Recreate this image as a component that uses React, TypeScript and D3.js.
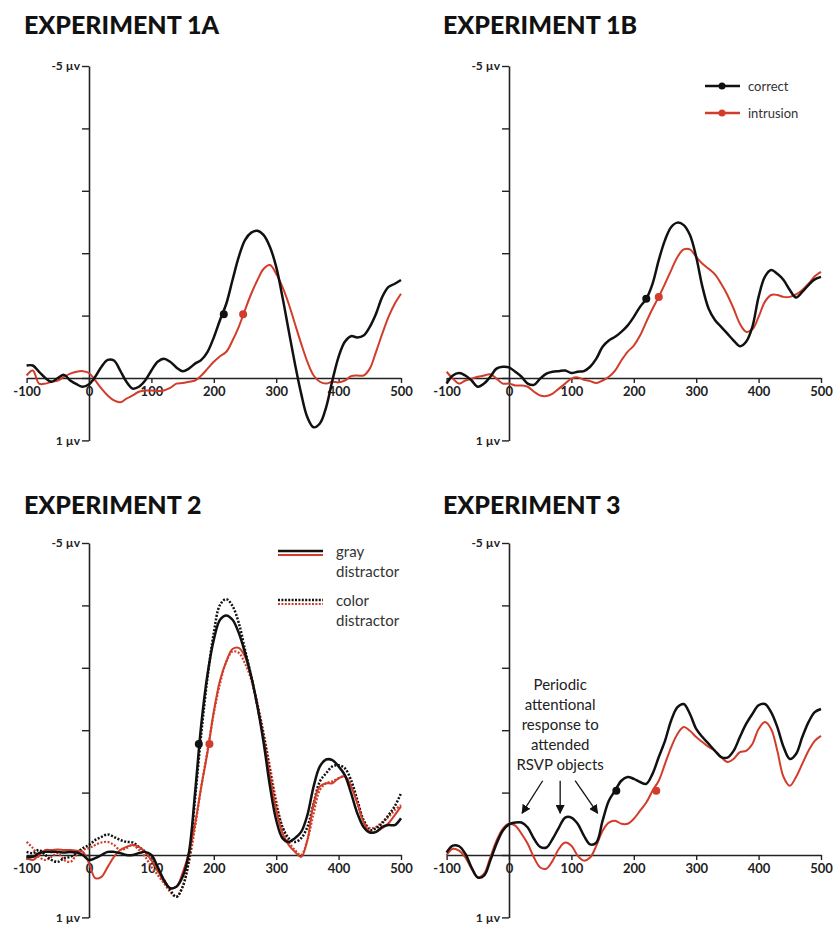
import React, { useEffect, useRef } from 'react';
import * as d3 from 'd3';

// time points (ms) shared by every trace
const times = [
  -100, -90, -80, -70, -60, -50, -40, -30, -20, -10,
  0, 10, 20, 30, 40, 50, 60, 70, 80, 90,
  100, 110, 120, 130, 140, 150, 160, 170, 180, 190,
  200, 210, 220, 230, 240, 250, 260, 270, 280, 290,
  300, 310, 320, 330, 340, 350, 360, 370, 380, 390,
  400, 410, 420, 430, 440, 450, 460, 470, 480, 490, 500,
];

const xTicks = [-100, 0, 100, 200, 300, 400, 500];
const yTicks = [-5, -4, -3, -2, -1, 0, 1];

// Experiment 1A (µV, negative up)
const exp1aCorrect = [
  -0.2, -0.2, -0.1, 0, 0.06, 0, -0.05, 0.04, 0.1, 0.14,
  0.1, -0.02, -0.18, -0.29, -0.28, -0.12, 0.06, 0.17, 0.14, 0.04,
  -0.12, -0.26, -0.31, -0.26, -0.17, -0.11, -0.15, -0.23, -0.29, -0.42,
  -0.65, -0.93, -1.19, -1.57, -1.94, -2.21, -2.33, -2.36, -2.29, -2.1,
  -1.78, -1.3, -0.76, -0.23, 0.25, 0.63, 0.79, 0.73, 0.47, 0.04,
  -0.34, -0.58, -0.67, -0.65, -0.68, -0.82, -1.03, -1.3, -1.46, -1.51, -1.57,
];
const exp1aIntrusion = [
  -0.04, -0.12, 0.09, 0.09, 0.06, 0.04, -0.02, -0.07, -0.1, -0.11,
  -0.08, 0.04, 0.17, 0.28, 0.36, 0.39, 0.33, 0.28, 0.22, 0.2,
  0.2, 0.21, 0.2, 0.16, 0.09, 0.08, 0.06, 0.04, -0.04, -0.15,
  -0.26, -0.35, -0.42, -0.6, -0.82, -1.09, -1.35, -1.57, -1.75, -1.81,
  -1.67, -1.46, -1.19, -0.87, -0.55, -0.26, -0.04, 0.06, 0.09, 0.06,
  0.07, 0.04, -0.03, -0.04, -0.04, -0.15, -0.42, -0.71, -0.98, -1.19, -1.35,
];

// Experiment 1B
const exp1bCorrect = [
  0.09, -0.04, -0.08, -0.04, 0.04, 0.14, 0.09, -0.02, -0.15, -0.18,
  -0.17, -0.1, -0.02, 0.09, 0.11, 0.01, -0.07, -0.1, -0.11, -0.12,
  -0.08, -0.1, -0.11, -0.18, -0.31, -0.5, -0.6, -0.66, -0.74, -0.84,
  -0.98, -1.14, -1.27, -1.51, -1.89, -2.21, -2.42, -2.49, -2.45, -2.29,
  -1.94, -1.46, -1.11, -0.93, -0.82, -0.71, -0.6, -0.51, -0.58, -0.82,
  -1.3, -1.62, -1.73, -1.67, -1.57, -1.41, -1.29, -1.38, -1.49, -1.58, -1.62,
];
const exp1bIntrusion = [
  -0.1, 0.01, 0.09, 0.04, 0.01, -0.02, -0.04, -0.06, 0.01, 0.09,
  0.09, 0.12, 0.12, 0.14, 0.22, 0.28, 0.29, 0.25, 0.17, 0.09,
  0.01, -0.01, 0.03, 0.05, 0.08, 0.04, -0.02, -0.12, -0.28, -0.42,
  -0.52, -0.68, -0.9, -1.11, -1.3, -1.51, -1.73, -1.94, -2.06, -2.06,
  -1.94, -1.83, -1.75, -1.66, -1.51, -1.33, -1.11, -0.87, -0.74, -0.78,
  -0.98, -1.22, -1.33, -1.33, -1.3, -1.3, -1.34, -1.41, -1.51, -1.63, -1.7,
];

// Experiment 2
const exp2GrayCorrect = [
  0.03, 0.03, -0.03, -0.05, -0.05, -0.05, -0.04, -0.05, -0.04, 0,
  0.08, 0.05, 0, -0.05, -0.05, -0.03, 0, 0, -0.03, -0.05,
  0, 0.19, 0.4, 0.53, 0.51, 0.35, -0.03, -1.0, -2.1, -2.9,
  -3.45, -3.77, -3.84, -3.77, -3.56, -3.24, -2.86, -2.38, -1.79, -1.1,
  -0.56, -0.27, -0.21, -0.27, -0.37, -0.64, -1.1, -1.42, -1.53, -1.52,
  -1.42, -1.28, -0.99, -0.67, -0.45, -0.36, -0.37, -0.45, -0.48, -0.48, -0.59,
];
const exp2ColorCorrect = [
  -0.05, -0.03, -0.08, 0, 0.08, 0.11, 0.05, 0.03, -0.03, -0.11,
  -0.16, -0.24, -0.29, -0.33, -0.29, -0.24, -0.21, -0.2, -0.13, -0.05,
  0.08, 0.24, 0.4, 0.56, 0.67, 0.51, 0.08, -0.9, -1.95, -2.85,
  -3.56, -4.01, -4.1, -3.99, -3.72, -3.29, -2.86, -2.38, -1.9, -1.31,
  -0.78, -0.45, -0.27, -0.21, -0.27, -0.45, -0.83, -1.18, -1.31, -1.42,
  -1.44, -1.39, -1.2, -0.88, -0.56, -0.4, -0.43, -0.51, -0.64, -0.78, -0.99,
];
const exp2GrayIntrusion = [
  0.05, 0.08, 0, -0.08, -0.08, -0.09, -0.08, -0.08, -0.07, -0.05,
  0.13, 0.37, 0.35, 0.19, 0.03, -0.08, -0.13, -0.16, -0.13, -0.05,
  0.08, 0.24, 0.43, 0.53, 0.51, 0.29, -0.03, -0.5, -1.1, -1.65,
  -2.3, -2.8, -3.1, -3.3, -3.32, -3.18, -2.86, -2.38, -1.84, -1.26,
  -0.72, -0.35, -0.16, -0.05, 0.03, -0.24, -0.83, -1.1, -1.15, -1.15,
  -1.23, -1.26, -1.1, -0.83, -0.53, -0.37, -0.37, -0.43, -0.51, -0.64, -0.78,
];
const exp2ColorIntrusion = [
  -0.21, -0.11, 0.03, 0.08, 0.03, -0.03, 0.08, 0.11, 0, -0.08,
  -0.11, -0.16, -0.2, -0.21, -0.16, -0.08, -0.11, -0.16, -0.08, 0.03,
  0.19, 0.32, 0.45, 0.59, 0.67, 0.51, 0.13, -0.45, -1.1, -1.68,
  -2.27, -2.75, -3.1, -3.26, -3.24, -3.07, -2.81, -2.43, -1.95, -1.42,
  -0.88, -0.45, -0.21, -0.08, 0, -0.24, -0.67, -1.04, -1.15, -1.18,
  -1.23, -1.26, -1.12, -0.83, -0.56, -0.43, -0.45, -0.53, -0.61, -0.72, -0.8,
];

// Experiment 3
const exp3Correct = [
  -0.04, -0.15, -0.14, -0.02, 0.2, 0.36, 0.33, 0.09, -0.18, -0.39,
  -0.49, -0.52, -0.52, -0.44, -0.26, -0.13, -0.12, -0.26, -0.44, -0.6,
  -0.6, -0.5, -0.31, -0.17, -0.2, -0.55, -0.87, -1.03, -1.19, -1.25,
  -1.22, -1.17, -1.14, -1.3, -1.57, -1.83, -2.16, -2.37, -2.42, -2.26,
  -2.02, -1.89, -1.78, -1.67, -1.57, -1.56, -1.67, -1.89, -2.1, -2.26,
  -2.4, -2.42, -2.29, -2.05, -1.73, -1.54, -1.62, -1.89, -2.13, -2.29, -2.34,
];
const exp3Intrusion = [
  0, -0.1, -0.07, 0.04, 0.22, 0.36, 0.3, 0.04, -0.23, -0.42,
  -0.5, -0.47, -0.34, -0.18, 0.04, 0.2, 0.22, 0.09, -0.1, -0.2,
  -0.15, 0.01, 0.09, 0.04, -0.15, -0.39, -0.52, -0.55, -0.5, -0.5,
  -0.58, -0.71, -0.84, -1.03, -1.19, -1.46, -1.73, -1.94, -2.05, -1.99,
  -1.89, -1.81, -1.73, -1.67, -1.57, -1.49, -1.54, -1.65, -1.67, -1.78,
  -2.02, -2.13, -2.02, -1.67, -1.25, -1.11, -1.25, -1.46, -1.67, -1.83, -1.91,
];

// onset markers [ms, µV]
const exp1aMarkers = [[216, -1.02], [247, -1.02]];
const exp1bMarkers = [[220, -1.27], [240, -1.3]];
const exp2Markers = [[176, -1.78], [193, -1.78]];
const exp3Markers = [[172, -1.03], [236, -1.03]];

// annotation arrows in Experiment 3 [fromMs, fromUv, toMs, toUv]
const exp3Arrows = [
  [54, -1.19, 21, -0.67],
  [82, -1.19, 82, -0.67],
  [106, -1.19, 142, -0.67],
];
const exp3Note = ['Periodic', 'attentional', 'response to', 'attended', 'RSVP objects'];

const BLACK = '#111';
const RED = '#d23c2a';
const UNIT = 62.4;

const panels = [
  {
    title: 'EXPERIMENT 1A', titleX: 24, titleY: 34, x0: 89, top: 66,
    series: [
      { values: exp1aIntrusion, color: RED, width: 2, dash: null },
      { values: exp1aCorrect, color: BLACK, width: 2.5, dash: null },
    ],
    markers: exp1aMarkers,
  },
  {
    title: 'EXPERIMENT 1B', titleX: 443, titleY: 34, x0: 509, top: 66,
    series: [
      { values: exp1bIntrusion, color: RED, width: 2, dash: null },
      { values: exp1bCorrect, color: BLACK, width: 2.5, dash: null },
    ],
    markers: exp1bMarkers,
    legend: 'outcome',
  },
  {
    title: 'EXPERIMENT 2', titleX: 24, titleY: 514, x0: 89, top: 543,
    series: [
      { values: exp2ColorIntrusion, color: RED, width: 2.2, dash: '2,1.6' },
      { values: exp2ColorCorrect, color: BLACK, width: 2.5, dash: '2,1.6' },
      { values: exp2GrayIntrusion, color: RED, width: 2, dash: null },
      { values: exp2GrayCorrect, color: BLACK, width: 2.5, dash: null },
    ],
    markers: exp2Markers,
    legend: 'distractor',
  },
  {
    title: 'EXPERIMENT 3', titleX: 443, titleY: 514, x0: 509, top: 543,
    series: [
      { values: exp3Intrusion, color: RED, width: 2, dash: null },
      { values: exp3Correct, color: BLACK, width: 2.5, dash: null },
    ],
    markers: exp3Markers,
    note: true,
  },
];

const App = () => {
  const svgRef = useRef();

  useEffect(() => {
    const svg = d3.select(svgRef.current);
    svg.selectAll('*').remove();

    svg.append('defs').append('marker')
      .attr('id', 'arrowhead')
      .attr('viewBox', '0 0 10 10')
      .attr('refX', 9)
      .attr('refY', 5)
      .attr('markerWidth', 7)
      .attr('markerHeight', 7)
      .attr('orient', 'auto')
      .append('path')
      .attr('d', 'M0,0 L10,5 L0,10 Z')
      .attr('fill', '#111');

    panels.forEach(p => {
      const x = d3.scaleLinear().domain([-100, 500]).range([p.x0 - UNIT, p.x0 + 5 * UNIT]);
      const y = d3.scaleLinear().domain([-5, 1]).range([p.top, p.top + 6 * UNIT]);
      const g = svg.append('g');

      g.append('text')
        .attr('x', p.titleX)
        .attr('y', p.titleY)
        .attr('font-family', 'Lato, sans-serif')
        .attr('font-weight', 900)
        .attr('font-size', 25)
        .attr('fill', '#111')
        .text(p.title);

      // x axis along zero
      const xAxis = g.append('g')
        .attr('transform', `translate(0,${y(0)})`)
        .call(d3.axisBottom(x).tickValues(xTicks).tickSize(5).tickSizeOuter(0).tickPadding(4)
          .tickFormat(d => String(d)));
      xAxis.select('.domain').attr('stroke', '#222').attr('stroke-width', 1.6);
      xAxis.selectAll('.tick line').attr('stroke', '#222').attr('stroke-width', 1.4);
      xAxis.selectAll('text')
        .attr('font-family', 'Lato, sans-serif')
        .attr('font-weight', 700)
        .attr('font-size', 13)
        .attr('fill', '#222');

      // y axis at time 0
      const yAxis = g.append('g')
        .attr('transform', `translate(${x(0)},0)`)
        .call(d3.axisLeft(y).tickValues(yTicks).tickSize(7).tickSizeOuter(0).tickPadding(2)
          .tickFormat(d => (d === -5 || d === 1 ? `${d} µv` : '')));
      yAxis.select('.domain').attr('stroke', '#222').attr('stroke-width', 1.6);
      yAxis.selectAll('.tick line').attr('stroke', '#222').attr('stroke-width', 1.4);
      yAxis.selectAll('text')
        .attr('font-family', 'Lato, sans-serif')
        .attr('font-weight', 700)
        .attr('font-size', 12)
        .attr('fill', '#222');

      const line = d3.line()
        .x((d, i) => x(times[i]))
        .y(d => y(d))
        .curve(d3.curveCatmullRom.alpha(0.5));

      p.series.forEach(s => {
        g.append('path')
          .datum(s.values)
          .attr('fill', 'none')
          .attr('stroke', s.color)
          .attr('stroke-width', s.width)
          .attr('stroke-dasharray', s.dash)
          .attr('stroke-linejoin', 'round')
          .attr('d', line);
      });

      g.selectAll('.onset')
        .data(p.markers)
        .enter()
        .append('circle')
        .attr('cx', d => x(d[0]))
        .attr('cy', d => y(d[1]))
        .attr('r', 4)
        .attr('fill', (d, i) => (i === 0 ? BLACK : RED));

      if (p.legend === 'outcome') {
        const items = [['correct', BLACK, 86], ['intrusion', RED, 113]];
        items.forEach(([label, color, ly]) => {
          g.append('line').attr('x1', 705).attr('x2', 740).attr('y1', ly).attr('y2', ly)
            .attr('stroke', color).attr('stroke-width', 2.5);
          g.append('circle').attr('cx', 722).attr('cy', ly).attr('r', 3.5).attr('fill', color);
          g.append('text').attr('x', 748).attr('y', ly + 4.5)
            .attr('font-family', 'Lato, sans-serif').attr('font-size', 13).attr('fill', '#333')
            .text(label);
        });
      }

      if (p.legend === 'distractor') {
        const items = [
          { ly: 551, dash: null, lines: ['gray', 'distractor'] },
          { ly: 600, dash: '2,1.4', lines: ['color', 'distractor'] },
        ];
        items.forEach(it => {
          g.append('line').attr('x1', 278).attr('x2', 323).attr('y1', it.ly).attr('y2', it.ly)
            .attr('stroke', BLACK).attr('stroke-width', 2.6).attr('stroke-dasharray', it.dash);
          g.append('line').attr('x1', 278).attr('x2', 323).attr('y1', it.ly + 4).attr('y2', it.ly + 4)
            .attr('stroke', RED).attr('stroke-width', 2.2).attr('stroke-dasharray', it.dash);
          it.lines.forEach((t, k) => {
            g.append('text').attr('x', 336).attr('y', it.ly + 6 + k * 19.5)
              .attr('font-family', 'Lato, sans-serif').attr('font-size', 15).attr('fill', '#333')
              .text(t);
          });
        });
      }

      if (p.note) {
        exp3Note.forEach((t, k) => {
          g.append('text')
            .attr('x', x(82))
            .attr('y', 690 + k * 20)
            .attr('text-anchor', 'middle')
            .attr('font-family', 'Lato, sans-serif')
            .attr('font-size', 15)
            .attr('fill', '#222')
            .text(t);
        });
        exp3Arrows.forEach(a => {
          g.append('line')
            .attr('x1', x(a[0])).attr('y1', y(a[1]))
            .attr('x2', x(a[2])).attr('y2', y(a[3]))
            .attr('stroke', '#111')
            .attr('stroke-width', 1.3)
            .attr('marker-end', 'url(#arrowhead)');
        });
      }
    });
  }, []);

  return (
    <svg
      ref={svgRef}
      width={834}
      height={926}
      style={{ position: 'absolute', left: 0, top: 0, background: '#fff' }}
    />
  );
};

export default App;
